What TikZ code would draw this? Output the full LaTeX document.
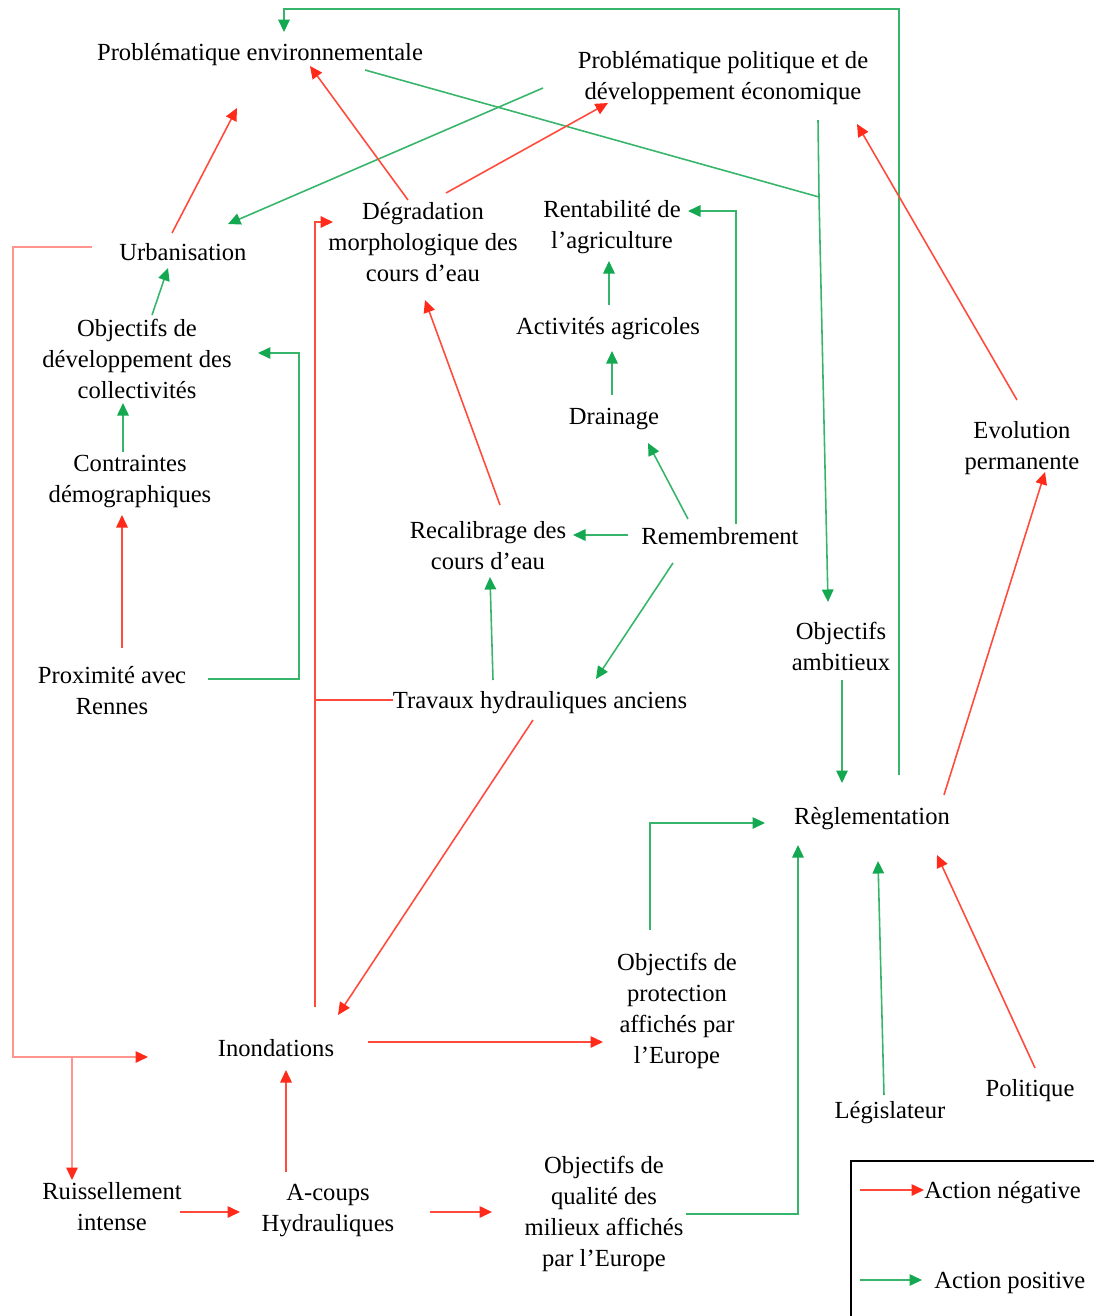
\documentclass[tikz,border=0pt]{standalone}
\usepackage{fontspec}
\setmainfont{Liberation Serif}
\usetikzlibrary{arrows.meta,calc}
\definecolor{negred}{HTML}{FF2A1A}
\definecolor{posgreen}{HTML}{14A850}

\begin{document}
\begin{tikzpicture}[x=0.02cm, y=-0.02cm,
  lbl/.style={align=center, inner sep=0pt, text depth=0pt, font=\fontsize{14}{17.6}\selectfont},
  negarrow/.style={draw=negred!85, line width=0.9pt, -{Triangle[length=0.25cm,width=0.23cm,color=negred]}},
  posarrow/.style={draw=posgreen!85, line width=0.9pt, -{Triangle[length=0.25cm,width=0.23cm,color=posgreen]}},
  negsoft/.style={negarrow, draw=negred!50},
  negline/.style={draw=negred!85, line width=0.9pt},
  posline/.style={draw=posgreen!85, line width=0.9pt}]
\useasboundingbox (0,0) rectangle (1094,1316);

\node[lbl] (penv) at (260,52) {Problématique environnementale};
\node[lbl] (ppol) at (723,75) {Problématique politique et de\\développement économique};
\node[lbl] (urb) at (183,252) {Urbanisation};
\node[lbl] (degr) at (423,242) {Dégradation\\morphologique des\\cours d’eau};
\node[lbl] (rent) at (612,224) {Rentabilité de\\l’agriculture};
\node[lbl] (objdev) at (137,359) {Objectifs de\\développement des\\collectivités};
\node[lbl] (actagr) at (608,326) {Activités agricoles};
\node[lbl] (drain) at (614,416) {Drainage};
\node[lbl] (contr) at (130,479) {Contraintes\\démographiques};
\node[lbl] (evol) at (1022,445) {Evolution\\permanente};
\node[lbl] (recal) at (488,545) {Recalibrage des\\cours d’eau};
\node[lbl] (remem) at (720,536) {Remembrement};
\node[lbl] (objamb) at (841,646) {Objectifs\\ambitieux};
\node[lbl] (prox) at (112,690) {Proximité avec\\Rennes};
\node[lbl] (trav) at (540,700) {Travaux hydrauliques anciens};
\node[lbl] (regl) at (872,816) {Règlementation};
\node[lbl] (objprot) at (677,1008) {Objectifs de\\protection\\affichés par\\l’Europe};
\node[lbl] (inond) at (276,1048) {Inondations};
\node[lbl] (legis) at (890,1110) {Législateur};
\node[lbl] (polit) at (1030,1088) {Politique};
\node[lbl] (ruiss) at (112,1206) {Ruissellement\\intense};
\node[lbl] (acoups) at (328,1208) {A-coups\\Hydrauliques};
\node[lbl] (objqual) at (604,1211) {Objectifs de\\qualité des\\milieux affichés\\par l’Europe};

\node[lbl, anchor=west] (legneg) at (924,1190) {Action négative};
\node[lbl, anchor=west] (legpos) at (934,1280) {Action positive};
\draw[black, line width=0.8pt] (851,1316) |- (1094,1161);
\draw[negarrow] ($(legneg.west)+(-64,0)$) -- (legneg.west);
\draw[posarrow] ($(legpos.west)+(-74,0)$) -- ($(legpos.west)+(-12,0)$);

% actions positives
\coordinate (jenv) at ($(ppol)+(96,122)$);
\draw[posarrow, line width=1.2pt] ($(regl)+(27,-41)$) |- ($(penv)+(24,-43)$) -- ($(penv)+(24,-20)$);
\draw[posline] ($(ppol)+(95,45)$) -- (jenv);
\draw[posarrow] (jenv) -- ($(objamb)+(-13,-44)$);
\draw[posline] ($(penv)+(105,18)$) -- (jenv);
\draw[posarrow] ($(ppol)+(-180,13)$) -- ($(urb)+(45,-28)$);
\draw[posarrow] ($(objdev)+(15,-44)$) -- ($(urb)+(-15,16)$);
\draw[posarrow] ($(contr)+(-7,-27)$) -- ($(objdev)+(-14,44)$);
\draw[posarrow] ($(prox)+(96,-11)$) -| ($(objdev)+(162,-6)$) -- ($(objdev)+(121,-6)$);
\draw[posarrow] ($(actagr)+(1,-21)$) -- ($(rent)+(-3,37)$);
\draw[posarrow] ($(drain)+(-2,-21)$) -- ($(actagr)+(4,25)$);
\draw[posarrow] ($(remem)+(-32,-17)$) -- ($(drain)+(34,27)$);
\draw[posarrow] ($(remem)+(16,-12)$) |- ($(rent)+(76,-13)$);
\draw[posarrow] ($(remem)+(-92,-1)$) -- ($(recal)+(85,-10)$);
\draw[posarrow] ($(remem)+(-47,27)$) -- ($(trav)+(56,-21)$);
\draw[posarrow] ($(trav)+(-47,-20)$) -- ($(recal)+(2,32)$);
\draw[posarrow] ($(objamb)+(1,34)$) -- ($(regl)+(-30,-33)$);
\draw[posarrow] ($(objprot)+(-27,-78)$) |- ($(regl)+(-107,7)$);
\draw[posarrow] ($(objqual)+(82,3)$) -| ($(regl)+(-74,29)$);
\draw[posarrow] ($(legis)+(-6,-15)$) -- ($(regl)+(6,45)$);

% actions negatives
\draw[negarrow] ($(urb)+(-11,-19)$) -- ($(penv)+(-23,56)$);
\draw[negarrow] ($(degr)+(-15,-42)$) -- ($(penv)+(50,14)$);
\draw[negarrow] ($(degr)+(23,-49)$) -- ($(ppol)+(-115,28)$);
\draw[negarrow] ($(recal)+(12,-40)$) -- ($(degr)+(2,58)$);
\draw[negarrow] ($(prox)+(10,-42)$) -- ($(contr)+(-8,36)$);
\coordinate (floodup) at ($(inond)+(39,-41)$);
\draw[negarrow, line width=1.1pt] (floodup) |- ($(degr)+(-90,-20)$);
\draw[negline, line width=1.1pt] (trav.west) -- (trav.west -| floodup);
\draw[negarrow] ($(trav)+(-7,20)$) -- ($(inond)+(62,-33)$);
\coordinate (inondW) at ($(inond)+(-128,9)$);
\coordinate (runoff) at ($(ruiss)+(-40,-26)$);
\draw[negsoft] ($(urb)+(-91,-5)$) -- ++(-79,0) |- (inondW);
\draw[negsoft] (runoff |- inondW) -- (runoff);
\draw[negarrow] ($(inond)+(92,-6)$) -- ($(objprot)+(-74,34)$);
\draw[negarrow] ($(acoups)+(-42,-36)$) -- ($(inond)+(10,22)$);
\draw[negarrow] ($(ruiss)+(68,6)$) -- ($(acoups)+(-88,4)$);
\draw[negarrow] ($(acoups)+(102,4)$) -- ($(objqual)+(-112,1)$);
\draw[negarrow] ($(regl)+(72,-21)$) -- ($(evol)+(23,27)$);
\draw[negarrow] ($(evol)+(-5,-45)$) -- ($(ppol)+(134,49)$);
\draw[negarrow] ($(polit)+(5,-20)$) -- ($(regl)+(65,39)$);
\end{tikzpicture}
\end{document}
